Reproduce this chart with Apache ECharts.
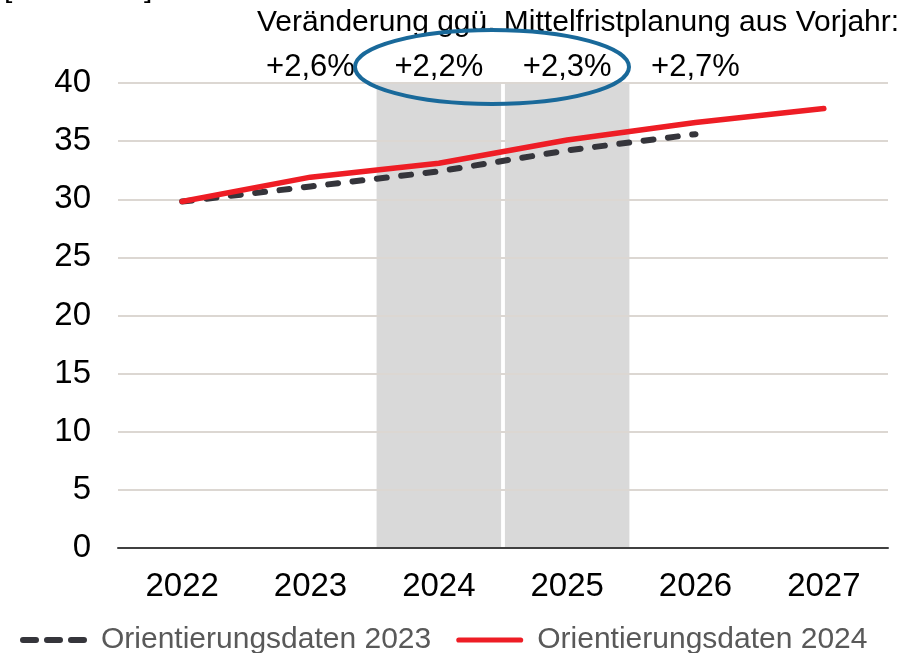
<!DOCTYPE html>
<html>
<head>
<meta charset="utf-8">
<script src="https://cdn.jsdelivr.net/npm/echarts@6/dist/echarts.min.js"></script>
<style>
  html, body { margin: 0; padding: 0; background: #fff; }
  #main { width: 908px; height: 653px; }
</style>
</head>
<body>
<div id="main"></div>
<script>
// Jahre auf der x-Achse
var years = ['2022', '2023', '2024', '2025', '2026', '2027'];

// Orientierungsdaten
var orient2023 = [29.8, 31.1, 32.4, 34.2, 35.6, null];
var orient2024 = [29.8, 31.9, 33.1, 35.1, 36.6, 37.8];

// grau hinterlegte Jahre
var shaded = [null, null, 40, 40, null, null];

// Veraenderung ggue. Mittelfristplanung aus Vorjahr
var changeYears = ['2023', '2024', '2025', '2026'];
var changeLabels = ['+2,6%', '+2,2%', '+2,3%', '+2,7%'];

var yTicks = [0, 5, 10, 15, 20, 25, 30, 35, 40];

var FONT = '"Liberation Sans", Arial, sans-serif';

// Legendensymbole: drei Striche bzw. eine durchgehende Linie
var dashIcon = 'path://M3,0H16A3,3 0 0 1 16,6H3A3,3 0 0 1 3,0Z' +
  'M27,0H40A3,3 0 0 1 40,6H27A3,3 0 0 1 27,0Z' +
  'M51,0H64A3,3 0 0 1 64,6H51A3,3 0 0 1 51,0Z';
var solidIcon = 'path://M3,0.5H64A2.5,2.5 0 0 1 64,5.5H3A2.5,2.5 0 0 1 3,0.5Z';

var chart = echarts.init(document.getElementById('main'), null, { renderer: 'canvas' });

var option = {
  backgroundColor: '#ffffff',
  animation: false,
  textStyle: { fontFamily: FONT },
  grid: { left: 118, right: 20, top: 83, bottom: 105, containLabel: false },
  legend: {
    data: [
      { name: 'Orientierungsdaten 2023', icon: dashIcon },
      { name: 'Orientierungsdaten 2024', icon: solidIcon }
    ],
    left: 15,
    top: 620,
    itemWidth: 67,
    itemHeight: 6,
    itemGap: 25,
    textStyle: { fontSize: 30, color: '#595959', fontFamily: FONT, padding: [0, 0, 0, 9] }
  },
  xAxis: {
    type: 'category',
    data: years,
    boundaryGap: true,
    axisLine: { lineStyle: { color: '#404040', width: 2 } },
    axisTick: { inside: true, length: 11, lineStyle: { color: '#404040', width: 2 } },
    axisLabel: { fontSize: 33, color: '#000', margin: 22, fontFamily: FONT },
    splitLine: { show: false }
  },
  yAxis: {
    type: 'value',
    min: yTicks[0],
    max: yTicks[yTicks.length - 1],
    interval: 5,
    axisLine: { show: false },
    axisTick: { show: false },
    axisLabel: { fontSize: 33, color: '#000', margin: 27, fontFamily: FONT },
    splitLine: { lineStyle: { color: '#dcd7d2', width: 2 } }
  },
  series: [
    {
      name: 'shade',
      type: 'bar',
      data: shaded,
      barWidth: '97%',
      z: -1,
      silent: true,
      itemStyle: { color: '#d9d9d9' }
    },
    {
      name: 'Orientierungsdaten 2023',
      type: 'line',
      data: orient2023,
      symbol: 'none',
      color: '#35353b',
      lineStyle: { color: '#35353b', width: 6, type: [10, 14.5], cap: 'round', join: 'round' },
      z: 3
    },
    {
      name: 'Orientierungsdaten 2024',
      type: 'line',
      data: orient2024,
      symbol: 'none',
      color: '#ee1d25',
      lineStyle: { color: '#ee1d25', width: 5.5, cap: 'round', join: 'round' },
      z: 4
    }
  ]
};

chart.setOption(option);

// Beschriftungen oben ueber den Jahren
var graphics = [
  {
    type: 'text',
    left: 4,
    top: -26,
    style: { text: '[Mrd. Euro]', font: '30px ' + FONT, fill: '#000' }
  },
  {
    type: 'text',
    x: 257,
    y: 23,
    style: {
      text: 'Veränderung ggü. Mittelfristplanung aus Vorjahr:',
      font: '30px ' + FONT, fill: '#000',
      textAlign: 'left', textVerticalAlign: 'middle'
    }
  }
];
changeYears.forEach(function (y, i) {
  var px = chart.convertToPixel({ xAxisIndex: 0 }, y);
  graphics.push({
    type: 'text',
    x: px,
    y: 67,
    style: {
      text: changeLabels[i],
      font: '31px ' + FONT, fill: '#000',
      textAlign: 'center', textVerticalAlign: 'middle'
    }
  });
});
graphics.push({
  type: 'ellipse',
  shape: { cx: 492, cy: 67, rx: 137, ry: 37 },
  style: { fill: 'none', stroke: '#19699a', lineWidth: 4 },
  z: 10
});

chart.setOption({ graphic: graphics });
</script>
</body>
</html>
